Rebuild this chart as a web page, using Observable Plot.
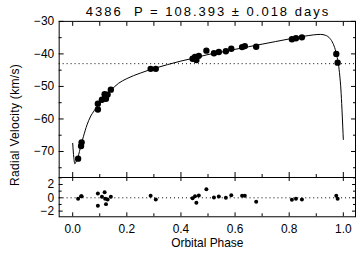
<!DOCTYPE html>
<html><head><meta charset="utf-8">
<script src="https://cdn.jsdelivr.net/npm/d3@7"></script>
<script src="https://cdn.jsdelivr.net/npm/@observablehq/plot@0.6"></script>
<style>
html,body{margin:0;padding:0;background:#fff;overflow:hidden}
#wrap{position:relative;width:356px;height:259px;overflow:hidden;font-family:"Liberation Sans",Arial,sans-serif;color:#000;background:#fff}
#wrap svg{position:absolute;left:0;top:0}
#title{position:absolute;top:4px;left:59px;width:298px;text-align:center;font-size:13px;line-height:15px;letter-spacing:2px;white-space:pre}
#ylab{position:absolute;left:15px;top:125px;transform:translate(-50%,-50%) rotate(-90deg);font-size:12px;letter-spacing:0.3px;white-space:nowrap}
</style></head><body><div id="wrap"><div id="title"></div><div id="ylab"></div></div>
<script>
const titleText = "4386  P = 108.393 ± 0.018 days";
const yLabel = "Radial Velocity (km/s)";
const xLabel = "Orbital Phase";

// observations
const obsPhase = [0.020,0.031,0.033,0.093,0.093,0.108,0.118,0.120,0.123,0.129,0.141,0.288,0.307,0.443,0.452,0.457,0.466,0.494,0.522,0.540,0.566,0.586,0.626,0.636,0.678,0.810,0.825,0.847,0.974,0.979];
const obsVel   = [-72.2,-68.3,-67.2,-57.1,-55.3,-54.1,-52.4,-53.2,-53.8,-52.5,-51.0,-44.6,-44.6,-41.5,-40.9,-41.9,-40.6,-39.0,-39.8,-39.4,-39.2,-38.4,-37.9,-37.6,-37.8,-35.5,-35.2,-34.9,-40.0,-42.7];
const residual = [-0.15,0.25,0.25,0.65,-1.2,0.15,0.85,-0.15,-0.95,-0.25,0.15,0.3,-0.25,-0.05,0.25,-0.75,0.35,1.3,0.05,0.2,0.0,0.4,0.3,0.3,-0.6,-0.3,-0.15,-0.25,0.3,-0.15];

// fitted orbit curve
const fitPhase = [0.000,0.004,0.008,0.012,0.016,0.020,0.025,0.031,0.040,0.053,0.065,0.080,0.093,0.108,0.125,0.141,0.170,0.200,0.250,0.300,0.350,0.400,0.450,0.500,0.550,0.600,0.650,0.700,0.750,0.800,0.850,0.890,0.915,0.935,0.950,0.962,0.970,0.976,0.982,0.987,0.991,0.995,0.998,1.000];
const fitVel   = [-67.5,-71.8,-73.8,-73.2,-72.6,-71.6,-70.0,-68.0,-65.3,-61.8,-59.4,-57.4,-55.9,-54.3,-52.6,-51.2,-49.0,-47.6,-45.9,-44.5,-43.3,-42.2,-41.25,-40.2,-39.45,-38.6,-37.8,-37.0,-36.2,-35.4,-34.65,-34.15,-34.0,-34.3,-35.2,-36.8,-38.6,-40.6,-43.2,-46.8,-50.8,-57.0,-62.5,-66.3];

const gamma = -43;
const xTicksMajor = [0,0.2,0.4,0.6,0.8,1.0];
const xTicksMinor = [0.1,0.3,0.5,0.7,0.9];
const vTicks = [-30,-40,-50,-60,-70];
const vMinor = [-35,-45,-55,-65,-75];
const rTicks = [2,0,-2];
const rMinor = [3,1,-1];

document.getElementById("title").textContent = titleText;
document.getElementById("ylab").textContent = yLabel;

const W = 358, H = 259;
const xDomain = [-0.05, 1.045];
const font = "'Liberation Sans', Arial, sans-serif";
const minus = d => d < 0 ? "\u2212" + Math.abs(d) : String(d);
const obs = obsPhase.map((p,i)=>({phase:p, v:obsVel[i], r:residual[i]}));
const fit = fitPhase.map((p,i)=>({phase:p, v:fitVel[i]}));
const st = {fontFamily: font, fontSize: "12px", color:"#000", background:"transparent", overflow:"visible"};

const main = Plot.plot({
  width: W, height: H, marginLeft: 59, marginRight: 1, marginTop: 21, marginBottom: 81,
  style: st,
  x: {domain: xDomain, axis: null},
  y: {domain: [-78,-30], axis: null},
  marks: [
    Plot.ruleY([gamma], {stroke:"#000", strokeDasharray:"1,3", strokeWidth:1}),
    Plot.line(fit, {x:"phase", y:"v", curve:"monotone-x", stroke:"#000", strokeWidth:1}),
    Plot.dot(obs, {x:"phase", y:"v", r:3.2, fill:"#000", stroke:"none"}),
    Plot.axisX(xTicksMajor.concat(xTicksMinor), {anchor:"top", tickSize:4, dy:4, fill:"none", label:null}),
    Plot.axisX(xTicksMajor, {anchor:"bottom", tickSize:5, dy:-5, fill:"none", label:null}),
    Plot.axisX(xTicksMinor, {anchor:"bottom", tickSize:3, dy:-3, fill:"none", label:null}),
    Plot.axisY(vTicks, {anchor:"left", tickSize:5, dx:5, fill:"none", label:null}),
    Plot.axisY(vMinor, {anchor:"left", tickSize:3, dx:3, fill:"none", label:null}),
    Plot.axisY(vTicks, {anchor:"right", tickSize:5, dx:-5, fill:"none", label:null}),
    Plot.axisY(vMinor, {anchor:"right", tickSize:3, dx:-3, fill:"none", label:null}),
    Plot.axisY(vTicks, {anchor:"left", tickSize:0, tickPadding:5, tickFormat:minus, fontSize:12, label:null}),
    Plot.frame({stroke:"#000", strokeWidth:1})
  ]
});

const resid = Plot.plot({
  width: W, height: H, marginLeft: 59, marginRight: 1, marginTop: 178, marginBottom: 41.5,
  style: st,
  x: {domain: xDomain, axis: null},
  y: {domain: [-2.85, 3.05], axis: null},
  marks: [
    Plot.ruleY([0], {stroke:"#000", strokeDasharray:"1,3", strokeWidth:1}),
    Plot.dot(obs, {x:"phase", y:"r", r:2, fill:"#000", stroke:"none"}),
    Plot.axisX(xTicksMajor, {anchor:"top", tickSize:3, dy:3, fill:"none", label:null}),
    Plot.axisX(xTicksMajor, {anchor:"bottom", tickSize:4, dy:-4, fill:"none", label:null}),
    Plot.axisX(xTicksMinor, {anchor:"bottom", tickSize:3, dy:-3, fill:"none", label:null}),
    Plot.axisY(rTicks, {anchor:"left", tickSize:4, dx:4, fill:"none", label:null}),
    Plot.axisY(rMinor, {anchor:"left", tickSize:3, dx:3, fill:"none", label:null}),
    Plot.axisY(rTicks, {anchor:"right", tickSize:4, dx:-4, fill:"none", label:null}),
    Plot.axisY(rMinor, {anchor:"right", tickSize:3, dx:-3, fill:"none", label:null}),
    Plot.axisY(rTicks, {anchor:"left", tickSize:0, tickPadding:5, tickFormat:minus, fontSize:12, label:null}),
    Plot.axisX(xTicksMajor, {anchor:"bottom", tickSize:0, tickPadding:8, tickFormat:d=>d.toFixed(1), fontSize:12, label:null}),
    Plot.text([xLabel], {frameAnchor:"bottom", dy:26.5, lineAnchor:"middle", fontSize:12, fill:"#000"}),
    Plot.frame({stroke:"#000", strokeWidth:1})
  ]
});

const wrap = document.getElementById("wrap");
wrap.appendChild(main);
wrap.appendChild(resid);
</script>
</body></html>
